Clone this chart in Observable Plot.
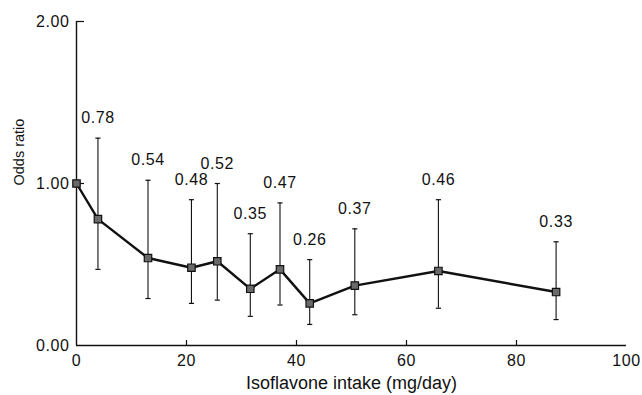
<!DOCTYPE html>
<html>
<head>
<meta charset="utf-8">
<script src="https://cdn.jsdelivr.net/npm/d3@7"></script>
<script src="https://cdn.jsdelivr.net/npm/@observablehq/plot@0.6"></script>
<style>
  body { margin: 0; background: #fff; }
  .num text { letter-spacing: 0.6px; }
</style>
</head>
<body>
<div id="chart"></div>
<script>
// Data
const intake    = [0, 3.9, 13.0, 20.9, 25.6, 31.6, 37.0, 42.4, 50.6, 65.8, 87.2];
const oddsRatio = [1.00, 0.78, 0.54, 0.48, 0.52, 0.35, 0.47, 0.26, 0.37, 0.46, 0.33];
const ciLow     = [null, 0.47, 0.29, 0.26, 0.28, 0.18, 0.25, 0.13, 0.19, 0.23, 0.16];
const ciHigh    = [null, 1.28, 1.02, 0.90, 1.00, 0.69, 0.88, 0.53, 0.72, 0.90, 0.64];
const xTicks = [0, 20, 40, 60, 80, 100];
const yTicks = [0, 1, 2];
const xTitle = "Isoflavone intake (mg/day)";
const yTitle = "Odds ratio";

const rows = intake.map((x, i) => ({x, or: oddsRatio[i], lo: ciLow[i], hi: ciHigh[i]}));
const ciRows = rows.filter(d => d.hi != null);

const cap = {
  draw(context, size) {
    const w = Math.sqrt(size) / 2;
    context.moveTo(-w, 0);
    context.lineTo(w, 0);
  }
};

const W = 642, H = 395, mt = 21, mb = 50, ml = 76, mr = 16;

const chart = Plot.plot({
  width: W,
  height: H,
  marginTop: mt,
  marginBottom: mb,
  marginLeft: ml,
  marginRight: mr,
  style: {fontFamily: "'Liberation Sans', Arial, sans-serif", color: "#111", background: "#fff"},
  x: {domain: [0, 100]},
  y: {domain: [0, 2]},
  marks: [
    Plot.axisX({ticks: xTicks, tickSize: 0, tickPadding: 9, fontSize: 16, className: "num", label: null}),
    Plot.axisY({ticks: yTicks, tickSize: 0, tickPadding: 7, fontSize: 16, tickFormat: d3.format(".2f"), className: "num", label: null}),
    Plot.tickX(xTicks.filter(t => t > 0 && t < 100), {x: d => d, insetTop: H - mt - mb - 5, stroke: "#111", strokeWidth: 1.2}),
    Plot.tickY(yTicks.filter(t => t > 0), {y: d => d, insetRight: W - ml - mr - 8, stroke: "#111", strokeWidth: 1.2}),
    Plot.ruleX([0], {stroke: "#111", strokeWidth: 1.4}),
    Plot.ruleY([0], {stroke: "#111", strokeWidth: 1.4}),
    Plot.ruleX(ciRows, {x: "x", y1: "lo", y2: "hi", stroke: "#111", strokeWidth: 1.1}),
    Plot.dot(ciRows, {x: "x", y: "hi", symbol: cap, r: 2.9, stroke: "#111", strokeWidth: 1.2}),
    Plot.dot(ciRows, {x: "x", y: "lo", symbol: cap, r: 2.9, stroke: "#111", strokeWidth: 1.2}),
    Plot.line(rows, {x: "x", y: "or", stroke: "#111", strokeWidth: 2.4}),
    Plot.dot(rows, {x: "x", y: "or", symbol: "square", r: 4.2, fill: "#6a6a6a", stroke: "#111", strokeWidth: 1.2}),
    Plot.text(ciRows, {x: "x", y: "hi", text: d => d3.format(".2f")(d.or), dy: -20, fontSize: 16, fill: "#111", className: "num"}),
    Plot.text([xTitle], {frameAnchor: "bottom", dy: 43, fontSize: 18, fill: "#111"}),
    Plot.text([yTitle], {frameAnchor: "left", dx: -57, dy: 2, rotate: -90, fontSize: 14.5, fill: "#111"})
  ]
});

document.getElementById("chart").appendChild(chart);
</script>
</body>
</html>
